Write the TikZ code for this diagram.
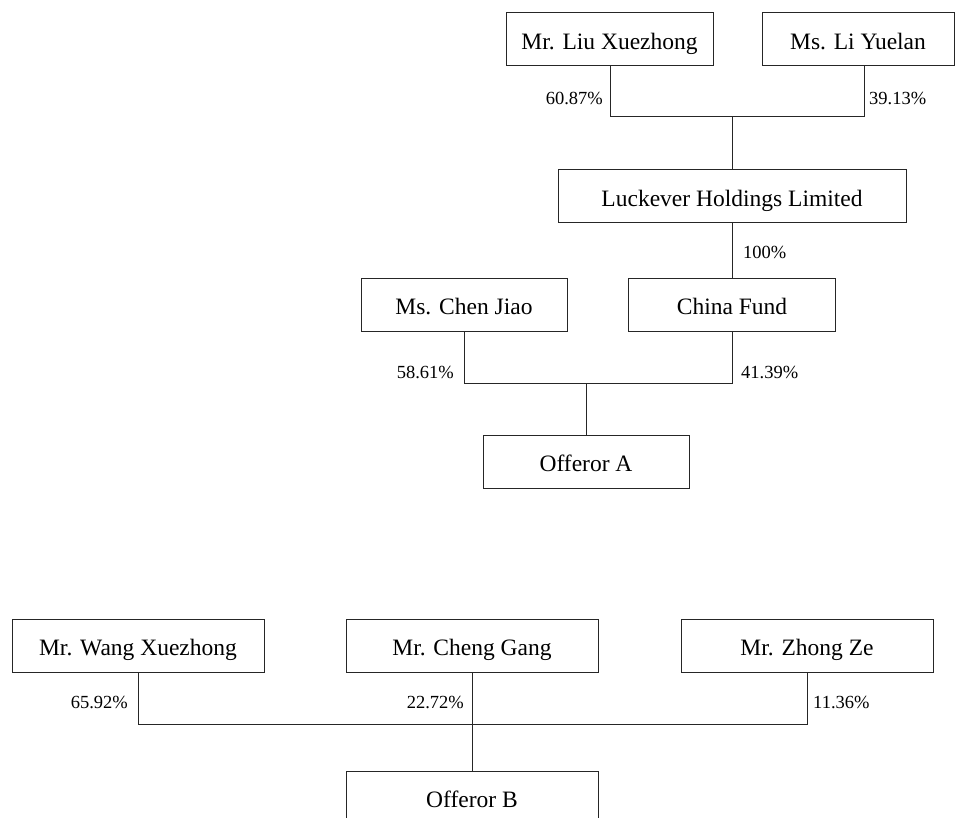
\documentclass[tikz,border=0pt]{standalone}
\usepackage{fontspec}
\setmainfont{Liberation Serif}
\begin{document}
\begin{tikzpicture}[x=1pt,y=-1pt,
  box/.style={draw=black!85, line width=1pt, minimum height=53pt, inner sep=0pt,
    text height=20pt, text depth=0pt,
    font=\fontsize{23.5}{28}\selectfont},
  pct/.style={inner sep=0pt, font=\fontsize{18.5}{22}\selectfont},
  link/.style={draw=black!85, line width=1pt}]
\useasboundingbox (0,0) rectangle (955,818);
\clip (0,0) rectangle (955,818);
% top group
\node[box, minimum width=207pt] (liu) at (609.5,39.5) {Mr. Liu Xuezhong};
\node[box, minimum width=192pt] (li) at (858,39.5) {Ms. Li Yuelan};
\node[box, minimum width=348pt] (luck) at (732,196.5) {Luckever Holdings Limited};
\node[box, minimum width=207pt] (china) at (732,304.5) {China Fund};
\node[box, minimum width=206pt] (chen) at (464,304.5) {Ms. Chen Jiao};
\node[box, minimum width=206pt] (offa) at (586,461.5) {Offeror A};
\coordinate (j1l) at (610,117);
\coordinate (j1r) at (864,117);
\coordinate (j1m) at (732,117);
\draw[link] (liu.south -| j1l) -- (j1l) -- (j1r) -- (li.south -| j1r);
\draw[link] (j1m) -- (luck.north);
\draw[link] (luck.south) -- (china.north);
\coordinate (j2l) at (464,383);
\coordinate (j2r) at (732,383);
\coordinate (j2m) at (586,383);
\draw[link] (chen.south) -- (j2l) -- (j2r) -- (china.south);
\draw[link] (j2m) -- (offa.north);
\node[pct, anchor=east] (p1) at (603,98) {60.87\%};
\node[pct, anchor=west] (p2) at (869,98) {39.13\%};
\node[pct, anchor=west] (p3) at (743,252) {100\%};
\node[pct, anchor=east] (p4) at (454,372) {58.61\%};
\node[pct, anchor=west] (p5) at (741,372) {41.39\%};
% bottom group
\node[box, minimum width=252pt] (wang) at (138,645.5) {Mr. Wang Xuezhong};
\node[box, minimum width=252pt] (cheng) at (472,645.5) {Mr. Cheng Gang};
\node[box, minimum width=252pt] (zhong) at (807,645.5) {Mr. Zhong Ze};
\node[box, minimum width=252pt] (offb) at (472,797.5) {Offeror B};
\coordinate (j3l) at (138,724);
\coordinate (j3r) at (807,724);
\draw[link] (wang.south) -- (j3l) -- (j3r) -- (zhong.south);
\draw[link] (cheng.south) -- (offb.north);
\node[pct, anchor=east] (p6) at (128,702) {65.92\%};
\node[pct, anchor=east] (p7) at (464,702) {22.72\%};
\node[pct, anchor=west] (p8) at (813,702) {11.36\%};
\end{tikzpicture}
\end{document}
